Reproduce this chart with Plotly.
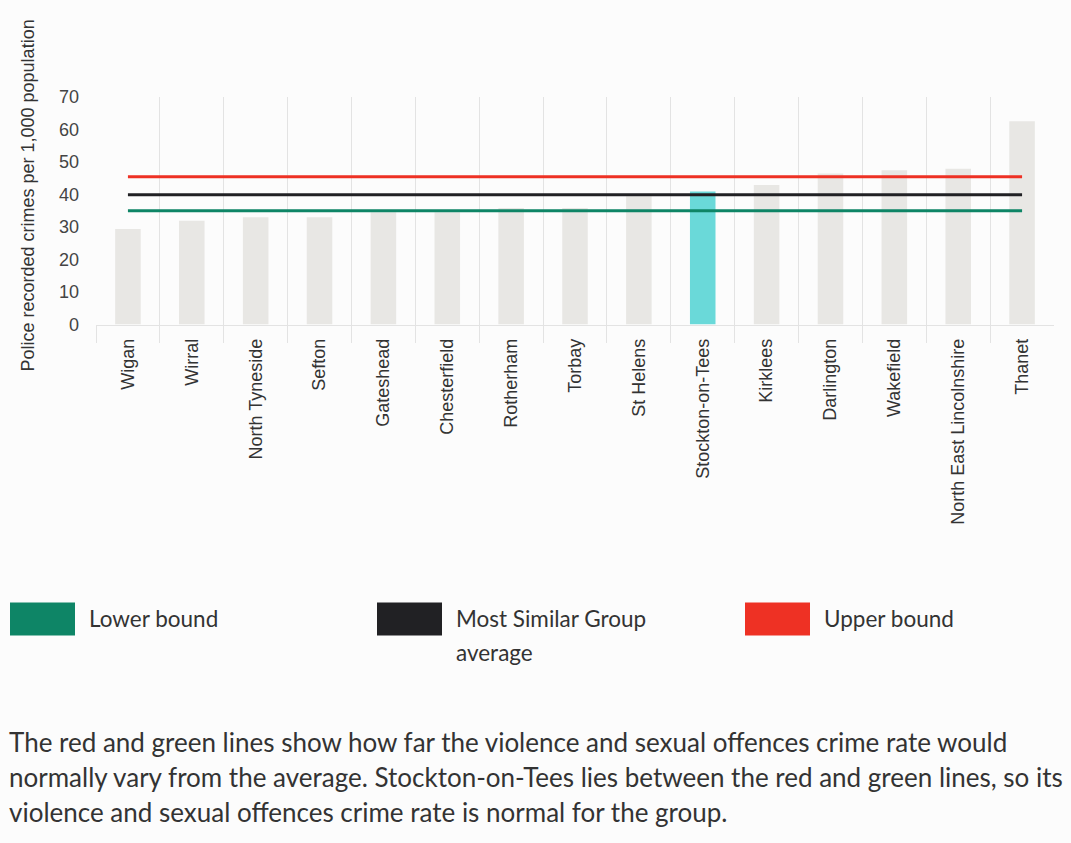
import plotly.graph_objects as go

W, H = 1071, 843

categories = ["Wigan", "Wirral", "North Tyneside", "Sefton", "Gateshead", "Chesterfield",
              "Rotherham", "Torbay", "St Helens", "Stockton-on-Tees", "Kirklees",
              "Darlington", "Wakefield", "North East Lincolnshire", "Thanet"]
rates = [29.4, 31.9, 33.0, 33.0, 34.5, 34.5, 35.8, 35.8, 39.4, 40.9, 42.9, 46.4, 47.4, 47.9, 62.5]
highlight = "Stockton-on-Tees"
lower_bound = 35.0
group_average = 39.9
upper_bound = 45.4
y_ticks = [0, 10, 20, 30, 40, 50, 60, 70]

BAR_GREY = "#e8e7e4"
TEAL = "#6ad9d9"
GREEN = "#0e8566"
BLACK = "#212124"
RED = "#ee3124"
BG = "#fcfcfc"
AXFONT = "Liberation Sans, Arial"

# observed vertical rendering: y_screen ~= 9 + (1 - paper_y) * 825
R_OFF, R_H = 9.0, 825.0

def px(x):
    return x / W

def py(y):
    return 1 - (y - R_OFF) / R_H

x0, x1 = 96, 1054
ytop, ybot = 96, 324.3

bar_colors = [TEAL if c == highlight else BAR_GREY for c in categories]

fig = go.Figure()
fig.add_trace(go.Bar(x=categories, y=rates, marker=dict(color=bar_colors, line=dict(width=0)),
                     width=0.4, showlegend=False, hoverinfo="x+y"))
for val, col in [(lower_bound, GREEN), (group_average, BLACK), (upper_bound, RED)]:
    fig.add_trace(go.Scatter(x=categories, y=[val] * len(categories), mode="lines",
                             line=dict(color=col, width=3), showlegend=False))

fig.update_layout(
    width=W, height=H,
    margin=dict(l=0, r=0, t=0, b=0),
    paper_bgcolor=BG, plot_bgcolor=BG,
    bargap=0.6,
    xaxis=dict(domain=[px(x0), px(x1)], type="category", tickson="boundaries",
               showgrid=True, gridcolor="#e3e3e3", gridwidth=1,
               ticks="outside", ticklen=17, tickcolor="#e3e3e3",
               showline=True, linecolor="#e3e3e3", linewidth=1,
               ticklabelstandoff=6,
               tickangle=-90, tickfont=dict(family=AXFONT, size=18, color="#333333"),
               range=[-0.5, len(categories) - 0.5], fixedrange=True),
    yaxis=dict(domain=[py(ybot), py(ytop)], range=[0, 70], tickvals=y_ticks,
               showgrid=False, zeroline=False, showline=False,
               ticklabelstandoff=16,
               tickfont=dict(family=AXFONT, size=18, color="#444444"),
               fixedrange=True),
    showlegend=False,
)

annotations = [
    dict(x=px(28), y=py(195), xref="paper", yref="paper", text="Police recorded crimes per 1,000 population",
         textangle=-90, showarrow=False, font=dict(family=AXFONT, size=18, color="#333333"),
         xanchor="center", yanchor="middle"),
]

legend_items = [
    (10, GREEN, ["Lower bound"]),
    (377, BLACK, ["Most Similar Group", "average"]),
    (745, RED, ["Upper bound"]),
]
shapes = []
for lx, col, lines in legend_items:
    shapes.append(dict(type="rect", xref="paper", yref="paper",
                       x0=px(lx), x1=px(lx + 65), y0=py(636), y1=py(603),
                       fillcolor=col, line=dict(width=0)))
    for i, label in enumerate(lines):
        annotations.append(dict(x=px(lx + 77), y=py(619 + 34 * i), xref="paper", yref="paper", text=label,
                                showarrow=False, align="left", xanchor="left", yanchor="middle",
                                font=dict(family="Lato", size=22.5, color="#333333")))

para_lines = [
    "The red and green lines show how far the violence and sexual offences crime rate would",
    "normally vary from the average. Stockton-on-Tees lies between the red and green lines, so its",
    "violence and sexual offences crime rate is normal for the group.",
]
for i, line in enumerate(para_lines):
    annotations.append(dict(x=px(7), y=py(743 + 35 * i), xref="paper", yref="paper", text=line,
                            showarrow=False, align="left", xanchor="left", yanchor="middle",
                            font=dict(family="Lato", size=26, color="#333333")))

fig.update_layout(annotations=annotations, shapes=shapes)
fig.write_html("out.html", config={"displayModeBar": False},
               post_script="document.body.style.margin='0';document.body.style.overflow='hidden';")
